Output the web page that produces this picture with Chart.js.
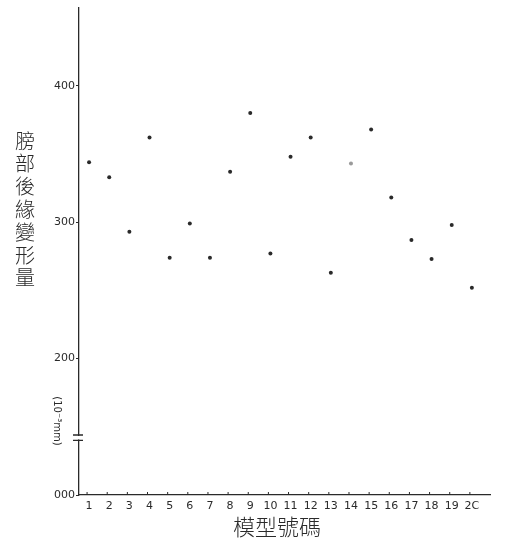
<!DOCTYPE html>
<html>
<head>
<meta charset="utf-8">
<script src="https://cdn.jsdelivr.net/npm/chart.js@4"></script>
<style>
  html, body { margin: 0; padding: 0; background: #fff; }
  #wrap { width: 507px; height: 539px; }
</style>
</head>
<body>
<div id="wrap"><canvas id="chart" width="507" height="539"></canvas></div>
<script>
const models = [1, 2, 3, 4, 5, 6, 7, 8, 9, 10, 11, 12, 13, 14, 15, 16, 17, 18, 19, 20];
const deform = [344, 333, 293, 362, 274, 299, 274, 337, 380, 277, 348, 362, 263, 343, 368, 318, 287, 273, 298, 252];

// Y ticks: the bottom one sits below the axis break and is printed "000"
const yTickValues = [100, 200, 300, 400];
const yTickLabels = ["000", "200", "300", "400"];
const xTickLabels = ["1", "2", "3", "4", "5", "6", "7", "8", "9", "10",
                     "11", "12", "13", "14", "15", "16", "17", "18", "19", "2C"];

const yTitleChars = ["膀", "部", "後", "緣", "變", "形", "量"];
const xTitle = "模型號碼";

const INK = "#2a2a2a";

// Point 14 is printed faint/grey in the original
const pointColors = models.map(function (m) { return m === 14 ? "#9a9a9a" : INK; });

// Extra drawing: axis break, inside ticks on x, vertical titles
const decorPlugin = {
  id: "decor",
  afterDraw: function (chart) {
    const ctx = chart.ctx;
    const xs = chart.scales.x;
    const ys = chart.scales.y;
    const axisX = chart.chartArea.left;

    ctx.save();

    // axis break: blank out a short piece of the y axis, then two bars
    const b1 = ys.getPixelForValue(144);
    const b2 = ys.getPixelForValue(140);
    ctx.fillStyle = "#fff";
    ctx.fillRect(axisX - 2, b1 + 1, 4, b2 - b1 - 2);
    ctx.strokeStyle = INK;
    ctx.lineWidth = 1.3;
    ctx.beginPath();
    ctx.moveTo(axisX - 6, b1); ctx.lineTo(axisX + 4, b1);
    ctx.moveTo(axisX - 6, b2); ctx.lineTo(axisX + 4, b2);
    ctx.stroke();

    // small ticks standing up from the x axis
    ctx.lineWidth = 1;
    ctx.beginPath();
    models.forEach(function (m) {
      const px = xs.getPixelForValue(m) - 2;
      ctx.moveTo(px, chart.chartArea.bottom);
      ctx.lineTo(px, chart.chartArea.bottom - 3);
    });
    ctx.stroke();

    // y title, one character per line
    ctx.fillStyle = INK;
    ctx.font = "300 20px 'Noto Sans CJK TC'";
    ctx.textAlign = "center";
    ctx.textBaseline = "middle";
    yTitleChars.forEach(function (ch, i) {
      ctx.fillText(ch, 25, 141 + i * 22.8);
    });

    // unit, turned to read downwards
    ctx.save();
    ctx.translate(57, 421);
    ctx.rotate(Math.PI / 2);
    ctx.font = "10px 'DejaVu Sans'";
    ctx.fillText("(10⁻³mm)", 0, 0);
    ctx.restore();

    // x title
    ctx.font = "300 22px 'Noto Sans CJK TC'";
    ctx.fillText(xTitle, 277, 527);

    ctx.restore();
  }
};

new Chart(document.getElementById("chart"), {
  type: "scatter",
  data: {
    datasets: [{
      data: models.map(function (m, i) { return { x: m, y: deform[i] }; }),
      pointRadius: 2,
      pointBackgroundColor: pointColors,
      pointBorderColor: pointColors,
      pointBorderWidth: 0
    }]
  },
  options: {
    responsive: false,
    animation: false,
    layout: { padding: { top: 8, right: 17, left: 0, bottom: 0 } },
    plugins: {
      legend: { display: false },
      tooltip: { enabled: false }
    },
    scales: {
      x: {
        type: "linear",
        min: 0.5,
        max: 20.9,
        afterFit: function (scale) { scale.height = 44; },
        afterBuildTicks: function (scale) {
          scale.ticks = models.map(function (m) { return { value: m }; });
        },
        border: { display: true, color: INK, width: 1.3 },
        grid: { display: false },
        ticks: {
          color: INK,
          font: { family: "'DejaVu Sans'", size: 11 },
          padding: -3,
          maxRotation: 0,
          autoSkip: false,
          callback: function (v) { return xTickLabels[models.indexOf(v)]; }
        }
      },
      y: {
        type: "linear",
        min: 100,
        max: 457,
        afterFit: function (scale) { scale.width = 79; },
        afterBuildTicks: function (scale) {
          scale.ticks = yTickValues.map(function (v) { return { value: v }; });
        },
        border: { display: true, color: INK, width: 1.3 },
        grid: { display: true, drawOnChartArea: false, drawTicks: true, tickLength: 3, color: INK },
        ticks: {
          color: INK,
          font: { family: "'DejaVu Sans'", size: 11 },
          padding: 1,
          callback: function (v) { return yTickLabels[yTickValues.indexOf(v)]; }
        }
      }
    }
  },
  plugins: [decorPlugin]
});
</script>
</body>
</html>
